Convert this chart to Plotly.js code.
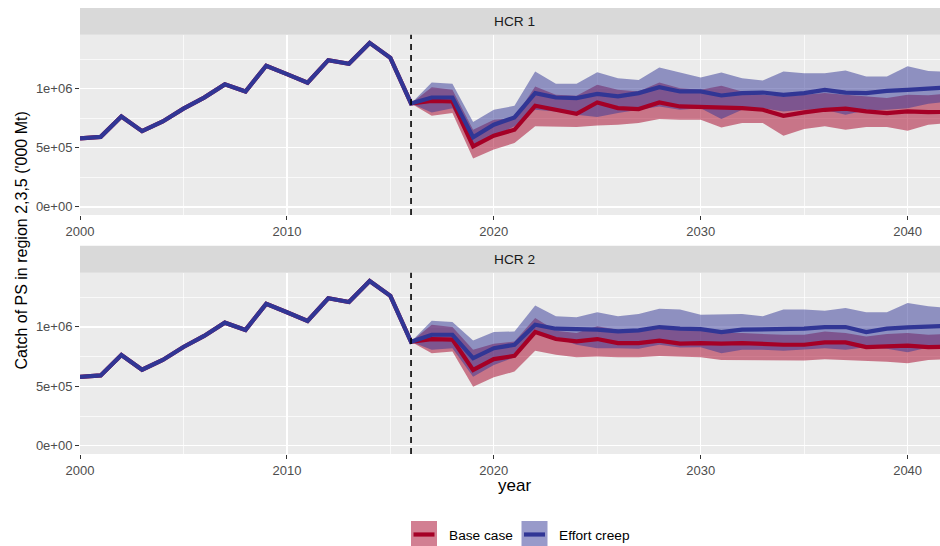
<!DOCTYPE html>
<html>
<head>
<meta charset="utf-8">
<script src="https://cdn.plot.ly/plotly-3.0.1.min.js"></script>
<style>
  html, body { margin: 0; padding: 0; background: #ffffff; }
  #chart { width: 940px; height: 546px; }
</style>
</head>
<body>
<div id="chart"></div>
<script>
// Observed catch 2000-2015 (shared by every scenario)
const histYears = [2000, 2001, 2002, 2003, 2004, 2005, 2006, 2007, 2008, 2009, 2010, 2011, 2012, 2013, 2014, 2015];
const histCatch = [579000, 592000, 764000, 640000, 722000, 831000, 924000, 1036000, 975000, 1194000, 1123000, 1050000, 1241000, 1210000, 1387000, 1261000];

// Projection years
const projYears = [2016, 2017, 2018, 2019, 2020, 2021, 2022, 2023, 2024, 2025, 2026, 2027, 2028, 2029, 2030, 2031, 2032, 2033, 2034, 2035, 2036, 2037, 2038, 2039, 2040, 2041, 2042];

// HCR 1 - Base case
const hcr1BaseMed = [875000, 897000, 891000, 512000, 602000, 652000, 855000, 821000, 787000, 883000, 835000, 827000, 883000, 849000, 844000, 835000, 835000, 821000, 770000, 799000, 821000, 830000, 807000, 793000, 807000, 801000, 803000];
const hcr1BaseLo  = [875000, 771000, 793000, 408000, 484000, 540000, 681000, 681000, 675000, 689000, 695000, 709000, 742000, 737000, 737000, 672000, 709000, 709000, 602000, 658000, 681000, 652000, 675000, 675000, 644000, 695000, 709000];
const hcr1BaseHi  = [875000, 1012000, 990000, 652000, 737000, 751000, 1018000, 948000, 939000, 1032000, 990000, 976000, 1052000, 1004000, 990000, 1024000, 976000, 948000, 934000, 948000, 962000, 948000, 934000, 920000, 948000, 945000, 960000];
// HCR 1 - Effort creep
const hcr1EffMed  = [875000, 925000, 925000, 588000, 695000, 756000, 962000, 925000, 920000, 956000, 934000, 962000, 1012000, 976000, 976000, 942000, 962000, 967000, 948000, 962000, 990000, 967000, 962000, 981000, 990000, 1003000, 1012000];
const hcr1EffLo   = [875000, 799000, 835000, 526000, 596000, 681000, 821000, 807000, 779000, 759000, 793000, 821000, 849000, 821000, 835000, 742000, 821000, 835000, 807000, 821000, 821000, 779000, 816000, 821000, 835000, 872000, 890000];
const hcr1EffHi   = [875000, 1052000, 1041000, 717000, 821000, 855000, 1145000, 1041000, 1041000, 1139000, 1088000, 1074000, 1178000, 1139000, 1094000, 1136000, 1088000, 1069000, 1145000, 1131000, 1131000, 1153000, 1102000, 1102000, 1190000, 1150000, 1140000];

// HCR 2 - Base case
const hcr2BaseMed = [875000, 898000, 893000, 638000, 729000, 757000, 957000, 898000, 878000, 898000, 864000, 864000, 884000, 859000, 864000, 859000, 864000, 856000, 850000, 850000, 870000, 870000, 830000, 836000, 842000, 830000, 835000];
const hcr2BaseLo  = [875000, 779000, 793000, 497000, 576000, 624000, 799000, 765000, 745000, 751000, 745000, 745000, 756000, 751000, 745000, 722000, 722000, 722000, 717000, 717000, 728000, 722000, 717000, 708000, 694000, 722000, 730000];
const hcr2BaseHi  = [875000, 1019000, 999000, 807000, 858000, 878000, 1075000, 968000, 948000, 1005000, 977000, 962000, 991000, 977000, 982000, 948000, 948000, 940000, 934000, 934000, 962000, 948000, 920000, 940000, 948000, 934000, 940000];
// HCR 2 - Effort creep
const hcr2EffMed  = [875000, 934000, 934000, 737000, 821000, 850000, 1019000, 985000, 982000, 977000, 962000, 971000, 999000, 985000, 982000, 957000, 977000, 977000, 977000, 985000, 999000, 999000, 957000, 985000, 996000, 1005000, 1010000];
const hcr2EffLo   = [875000, 807000, 821000, 581000, 680000, 745000, 948000, 906000, 849000, 821000, 821000, 816000, 849000, 827000, 830000, 779000, 807000, 807000, 799000, 807000, 821000, 807000, 830000, 816000, 787000, 827000, 830000];
const hcr2EffHi   = [875000, 1053000, 1041000, 886000, 957000, 962000, 1180000, 1089000, 1081000, 1123000, 1089000, 1109000, 1154000, 1146000, 1103000, 1109000, 1109000, 1089000, 1146000, 1146000, 1137000, 1160000, 1123000, 1123000, 1202000, 1174000, 1160000];

// Axis ticks
const yTickVals  = [0, 500000, 1000000];
const yTickText  = ['0e+00', '5e+05', '1e+06'];
const xTickVals  = [2000, 2010, 2020, 2030, 2040];
const panelNames = ['HCR 1', 'HCR 2'];
const seriesNames = ['Base case', 'Effort creep'];
const startYear = 2016;

const baseCol = '#A50026';
const effCol = '#313695';
const baseFill = 'rgba(165,0,38,0.5)';
const effFill = 'rgba(49,54,149,0.5)';
const FONT = 'Liberation Sans, Arial, Helvetica, sans-serif';

const W = 940, H = 546, L = 80;
const px = x => (x - L) / (W - L);      // pixel -> paper x
const py = y => 1 - y / H;              // pixel -> paper y

function ribbon(lo, hi, fill, xa, ya) {
  return [
    { x: projYears, y: lo, type: 'scatter', mode: 'lines', line: { width: 0, color: fill },
      xaxis: xa, yaxis: ya, showlegend: false, hoverinfo: 'skip' },
    { x: projYears, y: hi, type: 'scatter', mode: 'lines', line: { width: 0, color: fill },
      fill: 'tonexty', fillcolor: fill, xaxis: xa, yaxis: ya, showlegend: false, hoverinfo: 'skip' }
  ];
}
function medianLine(med, color, name, xa, ya) {
  return { x: histYears.concat(projYears), y: histCatch.concat(med), type: 'scatter', mode: 'lines',
    name: name, line: { width: 4.2, color: color }, xaxis: xa, yaxis: ya, showlegend: false };
}

const traces = [].concat(
  ribbon(hcr1BaseLo, hcr1BaseHi, baseFill, 'x', 'y'),
  ribbon(hcr1EffLo, hcr1EffHi, effFill, 'x', 'y'),
  [medianLine(hcr1BaseMed, baseCol, seriesNames[0], 'x', 'y'),
   medianLine(hcr1EffMed, effCol, seriesNames[1], 'x', 'y')],
  ribbon(hcr2BaseLo, hcr2BaseHi, baseFill, 'x2', 'y2'),
  ribbon(hcr2EffLo, hcr2EffHi, effFill, 'x2', 'y2'),
  [medianLine(hcr2BaseMed, baseCol, seriesNames[0], 'x2', 'y2'),
   medianLine(hcr2EffMed, effCol, seriesNames[1], 'x2', 'y2')]
);

const xRange = [2000, 2000 + (W - L) / 20.69];
const yRange = [-69350, 1456350];

function xAxis(anchor) {
  return {
    anchor: anchor, domain: [0, 1], range: xRange, tickvals: xTickVals,
    showgrid: true, gridcolor: '#ffffff', gridwidth: 1.4, zeroline: false, showline: false,
    ticks: 'outside', ticklen: 4, tickwidth: 1, tickcolor: '#333333',
    tickfont: { family: FONT, size: 13, color: '#4D4D4D' },
    minor: { dtick: 5, tick0: 2000, showgrid: true, gridcolor: '#ffffff', gridwidth: 0.7, ticks: '' },
    fixedrange: true
  };
}
function yAxis(anchor, dom) {
  return {
    anchor: anchor, domain: dom, range: yRange, tickvals: yTickVals, ticktext: yTickText,
    showgrid: true, gridcolor: '#ffffff', gridwidth: 1.4, zeroline: false, showline: false,
    ticks: 'outside', ticklen: 4, tickwidth: 1, tickcolor: '#333333',
    tickfont: { family: FONT, size: 13, color: '#4D4D4D' },
    minor: { dtick: 250000, tick0: 0, showgrid: true, gridcolor: '#ffffff', gridwidth: 0.7, ticks: '' },
    fixedrange: true
  };
}

const shapes = [
  // facet strips
  { type: 'rect', xref: 'paper', yref: 'paper', x0: 0, x1: 1, y0: py(34.7), y1: py(8), fillcolor: '#D9D9D9', line: { width: 0 }, layer: 'below' },
  { type: 'rect', xref: 'paper', yref: 'paper', x0: 0, x1: 1, y0: py(272.7), y1: py(245.7), fillcolor: '#D9D9D9', line: { width: 0 }, layer: 'below' },
  // start of projections
  { type: 'line', xref: 'x', yref: 'y domain', x0: startYear, x1: startYear, y0: 0, y1: 1, line: { color: '#000000', width: 1.6, dash: '6px,5px' }, layer: 'above' },
  { type: 'line', xref: 'x2', yref: 'y2 domain', x0: startYear, x1: startYear, y0: 0, y1: 1, line: { color: '#000000', width: 1.6, dash: '6px,5px' }, layer: 'above' },
  // legend keys
  { type: 'rect', xref: 'paper', yref: 'paper', x0: px(411), x1: px(437), y0: py(546), y1: py(521), fillcolor: baseFill, line: { width: 0 } },
  { type: 'line', xref: 'paper', yref: 'paper', x0: px(413.5), x1: px(434.5), y0: py(534.5), y1: py(534.5), line: { color: baseCol, width: 4.2 } },
  { type: 'rect', xref: 'paper', yref: 'paper', x0: px(521.5), x1: px(547.5), y0: py(546), y1: py(521), fillcolor: effFill, line: { width: 0 } },
  { type: 'line', xref: 'paper', yref: 'paper', x0: px(524), x1: px(545), y0: py(534.5), y1: py(534.5), line: { color: effCol, width: 4.2 } }
];

const annotations = [
  { text: panelNames[0], xref: 'paper', yref: 'paper', x: px(514.5), y: py(21.3), xanchor: 'center', yanchor: 'middle', showarrow: false,
    font: { family: FONT, size: 13.7, color: '#1A1A1A' } },
  { text: panelNames[1], xref: 'paper', yref: 'paper', x: px(514.5), y: py(259.2), xanchor: 'center', yanchor: 'middle', showarrow: false,
    font: { family: FONT, size: 13.7, color: '#1A1A1A' } },
  { text: "Catch of PS in region 2,3,5 ('000 Mt)", xref: 'paper', yref: 'paper', x: px(21), y: py(240.5), xanchor: 'center', yanchor: 'middle',
    textangle: -90, showarrow: false, font: { family: FONT, size: 16, color: '#000000' } },
  { text: 'year', xref: 'paper', yref: 'paper', x: px(514), y: py(486), xanchor: 'center', yanchor: 'middle', showarrow: false,
    font: { family: FONT, size: 17, color: '#000000' } },
  { text: seriesNames[0], xref: 'paper', yref: 'paper', x: px(446.5), y: py(535), xanchor: 'left', yanchor: 'middle', showarrow: false,
    font: { family: FONT, size: 13.7, color: '#000000' } },
  { text: seriesNames[1], xref: 'paper', yref: 'paper', x: px(556.5), y: py(535), xanchor: 'left', yanchor: 'middle', showarrow: false,
    font: { family: FONT, size: 13.7, color: '#000000' } }
];

const layout = {
  width: W, height: H,
  margin: { l: L, r: 0, t: 0, b: 0, pad: 0 },
  paper_bgcolor: '#ffffff', plot_bgcolor: '#EBEBEB',
  showlegend: false,
  font: { family: FONT },
  xaxis: xAxis('y'),
  yaxis: yAxis('x', [py(215), py(34.7)]),
  xaxis2: xAxis('y2'),
  yaxis2: yAxis('x2', [py(454), py(272.7)]),
  shapes: shapes,
  annotations: annotations
};

Plotly.newPlot('chart', traces, layout, { displayModeBar: false, staticPlot: true });
</script>
</body>
</html>
